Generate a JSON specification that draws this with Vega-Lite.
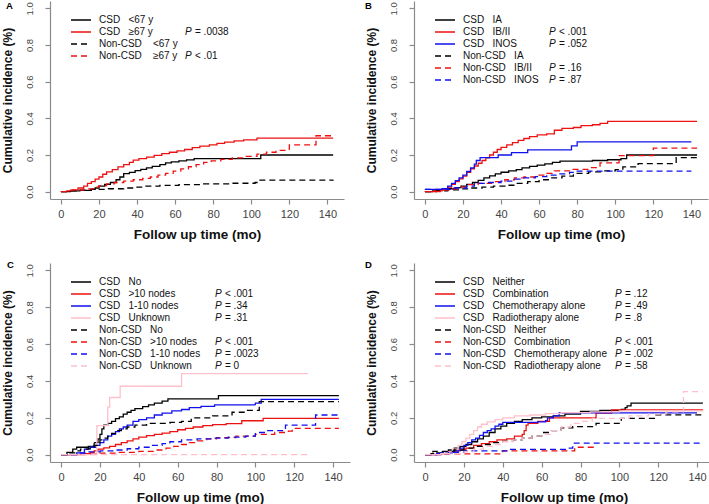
{
"$schema":"https://vega.github.io/schema/vega-lite/v6.json",
"autosize":{"type":"none"},
"padding":{"left":50,"top":1,"right":659,"bottom":503},
"columns":2,
"spacing":{"row":63,"column":64},
"bounds":"flush",
"align":"all",
"resolve":{"scale":{"color":"independent","strokeDash":"independent","shape":"independent","fill":"independent"},"legend":{"color":"independent","strokeDash":"independent","shape":"independent","fill":"independent"}},
"config":{
 "view":{"stroke":null},
 "font":"Liberation Sans",
 "axis":{"grid":false,"domainColor":"#8a8a8a","tickColor":"#8a8a8a","domainWidth":1.2,"tickWidth":1.2,"tickSize":5,"labelColor":"#444444","labelFont":"Liberation Sans","titleFont":"Liberation Sans","titleFontWeight":"bold","titleColor":"#111111"},
 "axisX":{"labelFontSize":11,"labelPadding":4,"titleFontSize":13.5,"titlePadding":8},
 "axisY":{"labelFontSize":9.5,"labelAngle":270,"labelPadding":11,"titleFontSize":12,"titlePadding":10},
 "legend":{"orient":"none","symbolType":"M-2,0H2","symbolSize":100,"symbolStrokeWidth":1.4,"labelFont":"Liberation Sans","labelFontSize":10,"labelColor":"#111111","labelOffset":12,"rowPadding":1,"padding":0,"labelLimit":0},
 "title":{"font":"Liberation Sans","fontSize":9.5,"fontWeight":"bold","anchor":"start","frame":"group","baseline":"alphabetic","offset":0,"color":"#000000"}
},
"datasets":{
"A":[
{"series":" CSD   <67 y","t":0,"ci":0},{"series":" CSD   <67 y","t":5,"ci":0.004},{"series":" CSD   <67 y","t":10,"ci":0.007},{"series":" CSD   <67 y","t":16,"ci":0.012},{"series":" CSD   <67 y","t":18,"ci":0.02},{"series":" CSD   <67 y","t":20,"ci":0.03},{"series":" CSD   <67 y","t":23,"ci":0.04},{"series":" CSD   <67 y","t":26,"ci":0.05},{"series":" CSD   <67 y","t":29,"ci":0.065},{"series":" CSD   <67 y","t":31,"ci":0.08},{"series":" CSD   <67 y","t":33,"ci":0.098},{"series":" CSD   <67 y","t":36,"ci":0.105},{"series":" CSD   <67 y","t":39,"ci":0.115},{"series":" CSD   <67 y","t":42,"ci":0.122},{"series":" CSD   <67 y","t":45,"ci":0.13},{"series":" CSD   <67 y","t":48,"ci":0.138},{"series":" CSD   <67 y","t":52,"ci":0.148},{"series":" CSD   <67 y","t":55,"ci":0.157},{"series":" CSD   <67 y","t":58,"ci":0.163},{"series":" CSD   <67 y","t":62,"ci":0.168},{"series":" CSD   <67 y","t":66,"ci":0.173},{"series":" CSD   <67 y","t":70,"ci":0.18},{"series":" CSD   <67 y","t":105,"ci":0.2},{"series":" CSD   <67 y","t":143,"ci":0.2},
{"series":" CSD   ≥67 y","t":0,"ci":0},{"series":" CSD   ≥67 y","t":3,"ci":0.004},{"series":" CSD   ≥67 y","t":6,"ci":0.01},{"series":" CSD   ≥67 y","t":9,"ci":0.02},{"series":" CSD   ≥67 y","t":12,"ci":0.03},{"series":" CSD   ≥67 y","t":14,"ci":0.045},{"series":" CSD   ≥67 y","t":16,"ci":0.055},{"series":" CSD   ≥67 y","t":18,"ci":0.068},{"series":" CSD   ≥67 y","t":20,"ci":0.08},{"series":" CSD   ≥67 y","t":22,"ci":0.095},{"series":" CSD   ≥67 y","t":24,"ci":0.108},{"series":" CSD   ≥67 y","t":27,"ci":0.12},{"series":" CSD   ≥67 y","t":30,"ci":0.135},{"series":" CSD   ≥67 y","t":33,"ci":0.148},{"series":" CSD   ≥67 y","t":36,"ci":0.16},{"series":" CSD   ≥67 y","t":38,"ci":0.172},{"series":" CSD   ≥67 y","t":41,"ci":0.18},{"series":" CSD   ≥67 y","t":45,"ci":0.188},{"series":" CSD   ≥67 y","t":49,"ci":0.198},{"series":" CSD   ≥67 y","t":53,"ci":0.207},{"series":" CSD   ≥67 y","t":57,"ci":0.215},{"series":" CSD   ≥67 y","t":61,"ci":0.222},{"series":" CSD   ≥67 y","t":65,"ci":0.23},{"series":" CSD   ≥67 y","t":69,"ci":0.24},{"series":" CSD   ≥67 y","t":73,"ci":0.248},{"series":" CSD   ≥67 y","t":78,"ci":0.255},{"series":" CSD   ≥67 y","t":82,"ci":0.263},{"series":" CSD   ≥67 y","t":86,"ci":0.27},{"series":" CSD   ≥67 y","t":91,"ci":0.277},{"series":" CSD   ≥67 y","t":96,"ci":0.283},{"series":" CSD   ≥67 y","t":103,"ci":0.292},{"series":" CSD   ≥67 y","t":143,"ci":0.292},
{"series":"Non-CSD    <67 y","t":0,"ci":0},{"series":"Non-CSD    <67 y","t":4,"ci":0.004},{"series":"Non-CSD    <67 y","t":8,"ci":0.008},{"series":"Non-CSD    <67 y","t":16,"ci":0.012},{"series":"Non-CSD    <67 y","t":25,"ci":0.016},{"series":"Non-CSD    <67 y","t":33,"ci":0.02},{"series":"Non-CSD    <67 y","t":38,"ci":0.025},{"series":"Non-CSD    <67 y","t":44,"ci":0.03},{"series":"Non-CSD    <67 y","t":52,"ci":0.034},{"series":"Non-CSD    <67 y","t":62,"ci":0.038},{"series":"Non-CSD    <67 y","t":75,"ci":0.042},{"series":"Non-CSD    <67 y","t":90,"ci":0.046},{"series":"Non-CSD    <67 y","t":102,"ci":0.05},{"series":"Non-CSD    <67 y","t":103,"ci":0.063},{"series":"Non-CSD    <67 y","t":143,"ci":0.065},
{"series":"Non-CSD    ≥67 y","t":0,"ci":0},{"series":"Non-CSD    ≥67 y","t":5,"ci":0.008},{"series":"Non-CSD    ≥67 y","t":12,"ci":0.015},{"series":"Non-CSD    ≥67 y","t":17,"ci":0.025},{"series":"Non-CSD    ≥67 y","t":20,"ci":0.033},{"series":"Non-CSD    ≥67 y","t":24,"ci":0.042},{"series":"Non-CSD    ≥67 y","t":28,"ci":0.05},{"series":"Non-CSD    ≥67 y","t":33,"ci":0.058},{"series":"Non-CSD    ≥67 y","t":38,"ci":0.065},{"series":"Non-CSD    ≥67 y","t":43,"ci":0.072},{"series":"Non-CSD    ≥67 y","t":47,"ci":0.08},{"series":"Non-CSD    ≥67 y","t":51,"ci":0.09},{"series":"Non-CSD    ≥67 y","t":55,"ci":0.1},{"series":"Non-CSD    ≥67 y","t":59,"ci":0.112},{"series":"Non-CSD    ≥67 y","t":63,"ci":0.124},{"series":"Non-CSD    ≥67 y","t":67,"ci":0.136},{"series":"Non-CSD    ≥67 y","t":71,"ci":0.148},{"series":"Non-CSD    ≥67 y","t":75,"ci":0.16},{"series":"Non-CSD    ≥67 y","t":79,"ci":0.168},{"series":"Non-CSD    ≥67 y","t":84,"ci":0.176},{"series":"Non-CSD    ≥67 y","t":90,"ci":0.184},{"series":"Non-CSD    ≥67 y","t":96,"ci":0.192},{"series":"Non-CSD    ≥67 y","t":103,"ci":0.205},{"series":"Non-CSD    ≥67 y","t":108,"ci":0.215},{"series":"Non-CSD    ≥67 y","t":113,"ci":0.225},{"series":"Non-CSD    ≥67 y","t":120,"ci":0.255},{"series":"Non-CSD    ≥67 y","t":134,"ci":0.305},{"series":"Non-CSD    ≥67 y","t":143,"ci":0.305}
],
"B":[
{"series":" CSD   IA","t":0,"ci":0},{"series":" CSD   IA","t":4,"ci":0.004},{"series":" CSD   IA","t":8,"ci":0.01},{"series":" CSD   IA","t":12,"ci":0.016},{"series":" CSD   IA","t":16,"ci":0.022},{"series":" CSD   IA","t":19,"ci":0.03},{"series":" CSD   IA","t":22,"ci":0.04},{"series":" CSD   IA","t":25,"ci":0.05},{"series":" CSD   IA","t":28,"ci":0.062},{"series":" CSD   IA","t":31,"ci":0.075},{"series":" CSD   IA","t":34,"ci":0.086},{"series":" CSD   IA","t":37,"ci":0.097},{"series":" CSD   IA","t":40,"ci":0.106},{"series":" CSD   IA","t":44,"ci":0.113},{"series":" CSD   IA","t":48,"ci":0.12},{"series":" CSD   IA","t":51,"ci":0.13},{"series":" CSD   IA","t":55,"ci":0.138},{"series":" CSD   IA","t":59,"ci":0.145},{"series":" CSD   IA","t":63,"ci":0.152},{"series":" CSD   IA","t":67,"ci":0.16},{"series":" CSD   IA","t":71,"ci":0.167},{"series":" CSD   IA","t":88,"ci":0.17},{"series":" CSD   IA","t":96,"ci":0.174},{"series":" CSD   IA","t":103,"ci":0.18},{"series":" CSD   IA","t":106,"ci":0.2},{"series":" CSD   IA","t":143,"ci":0.2},
{"series":" CSD   IB/II","t":0,"ci":0},{"series":" CSD   IB/II","t":5,"ci":0.005},{"series":" CSD   IB/II","t":9,"ci":0.012},{"series":" CSD   IB/II","t":12,"ci":0.025},{"series":" CSD   IB/II","t":14,"ci":0.04},{"series":" CSD   IB/II","t":16,"ci":0.055},{"series":" CSD   IB/II","t":18,"ci":0.07},{"series":" CSD   IB/II","t":20,"ci":0.085},{"series":" CSD   IB/II","t":22,"ci":0.105},{"series":" CSD   IB/II","t":24,"ci":0.125},{"series":" CSD   IB/II","t":26,"ci":0.14},{"series":" CSD   IB/II","t":28,"ci":0.155},{"series":" CSD   IB/II","t":30,"ci":0.17},{"series":" CSD   IB/II","t":32,"ci":0.185},{"series":" CSD   IB/II","t":34,"ci":0.2},{"series":" CSD   IB/II","t":36,"ci":0.215},{"series":" CSD   IB/II","t":38,"ci":0.23},{"series":" CSD   IB/II","t":40,"ci":0.242},{"series":" CSD   IB/II","t":43,"ci":0.255},{"series":" CSD   IB/II","t":46,"ci":0.268},{"series":" CSD   IB/II","t":49,"ci":0.28},{"series":" CSD   IB/II","t":52,"ci":0.29},{"series":" CSD   IB/II","t":55,"ci":0.3},{"series":" CSD   IB/II","t":59,"ci":0.31},{"series":" CSD   IB/II","t":64,"ci":0.315},{"series":" CSD   IB/II","t":68,"ci":0.335},{"series":" CSD   IB/II","t":72,"ci":0.345},{"series":" CSD   IB/II","t":78,"ci":0.35},{"series":" CSD   IB/II","t":82,"ci":0.36},{"series":" CSD   IB/II","t":88,"ci":0.365},{"series":" CSD   IB/II","t":92,"ci":0.372},{"series":" CSD   IB/II","t":96,"ci":0.383},{"series":" CSD   IB/II","t":143,"ci":0.383},
{"series":" CSD   INOS","t":0,"ci":0.012},{"series":" CSD   INOS","t":9,"ci":0.016},{"series":" CSD   INOS","t":12,"ci":0.03},{"series":" CSD   INOS","t":14,"ci":0.045},{"series":" CSD   INOS","t":16,"ci":0.06},{"series":" CSD   INOS","t":18,"ci":0.075},{"series":" CSD   INOS","t":20,"ci":0.09},{"series":" CSD   INOS","t":22,"ci":0.11},{"series":" CSD   INOS","t":24,"ci":0.13},{"series":" CSD   INOS","t":26,"ci":0.15},{"series":" CSD   INOS","t":27,"ci":0.17},{"series":" CSD   INOS","t":29,"ci":0.186},{"series":" CSD   INOS","t":38.5,"ci":0.2},{"series":" CSD   INOS","t":45.5,"ci":0.213},{"series":" CSD   INOS","t":54,"ci":0.228},{"series":" CSD   INOS","t":77,"ci":0.25},{"series":" CSD   INOS","t":80,"ci":0.272},{"series":" CSD   INOS","t":140,"ci":0.272},
{"series":"Non-CSD   IA","t":0,"ci":0},{"series":"Non-CSD   IA","t":6,"ci":0.004},{"series":"Non-CSD   IA","t":12,"ci":0.01},{"series":"Non-CSD   IA","t":18,"ci":0.015},{"series":"Non-CSD   IA","t":24,"ci":0.02},{"series":"Non-CSD   IA","t":30,"ci":0.025},{"series":"Non-CSD   IA","t":36,"ci":0.03},{"series":"Non-CSD   IA","t":42,"ci":0.035},{"series":"Non-CSD   IA","t":48,"ci":0.045},{"series":"Non-CSD   IA","t":54,"ci":0.055},{"series":"Non-CSD   IA","t":60,"ci":0.065},{"series":"Non-CSD   IA","t":66,"ci":0.075},{"series":"Non-CSD   IA","t":72,"ci":0.085},{"series":"Non-CSD   IA","t":78,"ci":0.1},{"series":"Non-CSD   IA","t":86,"ci":0.108},{"series":"Non-CSD   IA","t":94,"ci":0.113},{"series":"Non-CSD   IA","t":100,"ci":0.12},{"series":"Non-CSD   IA","t":104,"ci":0.135},{"series":"Non-CSD   IA","t":112,"ci":0.153},{"series":"Non-CSD   IA","t":132,"ci":0.186},{"series":"Non-CSD   IA","t":143,"ci":0.19},
{"series":"Non-CSD   IB/II","t":0,"ci":0},{"series":"Non-CSD   IB/II","t":8,"ci":0.008},{"series":"Non-CSD   IB/II","t":14,"ci":0.015},{"series":"Non-CSD   IB/II","t":19,"ci":0.025},{"series":"Non-CSD   IB/II","t":22,"ci":0.038},{"series":"Non-CSD   IB/II","t":28,"ci":0.045},{"series":"Non-CSD   IB/II","t":35,"ci":0.055},{"series":"Non-CSD   IB/II","t":42,"ci":0.065},{"series":"Non-CSD   IB/II","t":47,"ci":0.075},{"series":"Non-CSD   IB/II","t":52,"ci":0.08},{"series":"Non-CSD   IB/II","t":58,"ci":0.09},{"series":"Non-CSD   IB/II","t":64,"ci":0.1},{"series":"Non-CSD   IB/II","t":68,"ci":0.113},{"series":"Non-CSD   IB/II","t":77,"ci":0.122},{"series":"Non-CSD   IB/II","t":86,"ci":0.131},{"series":"Non-CSD   IB/II","t":92,"ci":0.157},{"series":"Non-CSD   IB/II","t":102,"ci":0.197},{"series":"Non-CSD   IB/II","t":120,"ci":0.237},{"series":"Non-CSD   IB/II","t":143,"ci":0.237},
{"series":"Non-CSD   INOS","t":0,"ci":0.012},{"series":"Non-CSD   INOS","t":8,"ci":0.012},{"series":"Non-CSD   INOS","t":14,"ci":0.02},{"series":"Non-CSD   INOS","t":22,"ci":0.03},{"series":"Non-CSD   INOS","t":26,"ci":0.045},{"series":"Non-CSD   INOS","t":32,"ci":0.05},{"series":"Non-CSD   INOS","t":40,"ci":0.058},{"series":"Non-CSD   INOS","t":46,"ci":0.068},{"series":"Non-CSD   INOS","t":52,"ci":0.075},{"series":"Non-CSD   INOS","t":58,"ci":0.082},{"series":"Non-CSD   INOS","t":64,"ci":0.09},{"series":"Non-CSD   INOS","t":70,"ci":0.097},{"series":"Non-CSD   INOS","t":76,"ci":0.105},{"series":"Non-CSD   INOS","t":80,"ci":0.112},{"series":"Non-CSD   INOS","t":140,"ci":0.112}
],
"C":[
{"series":" CSD   No","t":0,"ci":0},{"series":" CSD   No","t":3,"ci":0.012},{"series":" CSD   No","t":6,"ci":0.03},{"series":" CSD   No","t":8,"ci":0.04},{"series":" CSD   No","t":14,"ci":0.045},{"series":" CSD   No","t":17,"ci":0.065},{"series":" CSD   No","t":19,"ci":0.085},{"series":" CSD   No","t":20,"ci":0.11},{"series":" CSD   No","t":21,"ci":0.14},{"series":" CSD   No","t":22,"ci":0.16},{"series":" CSD   No","t":24,"ci":0.17},{"series":" CSD   No","t":26,"ci":0.18},{"series":" CSD   No","t":28,"ci":0.195},{"series":" CSD   No","t":30,"ci":0.205},{"series":" CSD   No","t":32,"ci":0.22},{"series":" CSD   No","t":34,"ci":0.23},{"series":" CSD   No","t":36,"ci":0.24},{"series":" CSD   No","t":38,"ci":0.25},{"series":" CSD   No","t":42,"ci":0.26},{"series":" CSD   No","t":45,"ci":0.27},{"series":" CSD   No","t":48,"ci":0.28},{"series":" CSD   No","t":52,"ci":0.29},{"series":" CSD   No","t":55,"ci":0.303},{"series":" CSD   No","t":81,"ci":0.32},{"series":" CSD   No","t":143,"ci":0.32},
{"series":" CSD   >10 nodes","t":0,"ci":0},{"series":" CSD   >10 nodes","t":12,"ci":0.005},{"series":" CSD   >10 nodes","t":15,"ci":0.012},{"series":" CSD   >10 nodes","t":17,"ci":0.02},{"series":" CSD   >10 nodes","t":19,"ci":0.03},{"series":" CSD   >10 nodes","t":22,"ci":0.037},{"series":" CSD   >10 nodes","t":25,"ci":0.045},{"series":" CSD   >10 nodes","t":28,"ci":0.055},{"series":" CSD   >10 nodes","t":31,"ci":0.065},{"series":" CSD   >10 nodes","t":34,"ci":0.075},{"series":" CSD   >10 nodes","t":37,"ci":0.085},{"series":" CSD   >10 nodes","t":40,"ci":0.095},{"series":" CSD   >10 nodes","t":44,"ci":0.103},{"series":" CSD   >10 nodes","t":48,"ci":0.11},{"series":" CSD   >10 nodes","t":52,"ci":0.117},{"series":" CSD   >10 nodes","t":56,"ci":0.125},{"series":" CSD   >10 nodes","t":60,"ci":0.135},{"series":" CSD   >10 nodes","t":64,"ci":0.142},{"series":" CSD   >10 nodes","t":68,"ci":0.15},{"series":" CSD   >10 nodes","t":73,"ci":0.157},{"series":" CSD   >10 nodes","t":78,"ci":0.163},{"series":" CSD   >10 nodes","t":85,"ci":0.168},{"series":" CSD   >10 nodes","t":93,"ci":0.184},{"series":" CSD   >10 nodes","t":104,"ci":0.197},{"series":" CSD   >10 nodes","t":143,"ci":0.197},
{"series":" CSD   1-10 nodes","t":0,"ci":0},{"series":" CSD   1-10 nodes","t":8,"ci":0.01},{"series":" CSD   1-10 nodes","t":12,"ci":0.03},{"series":" CSD   1-10 nodes","t":15,"ci":0.04},{"series":" CSD   1-10 nodes","t":18,"ci":0.05},{"series":" CSD   1-10 nodes","t":20,"ci":0.065},{"series":" CSD   1-10 nodes","t":22,"ci":0.08},{"series":" CSD   1-10 nodes","t":24,"ci":0.1},{"series":" CSD   1-10 nodes","t":26,"ci":0.11},{"series":" CSD   1-10 nodes","t":28,"ci":0.125},{"series":" CSD   1-10 nodes","t":30,"ci":0.14},{"series":" CSD   1-10 nodes","t":32,"ci":0.15},{"series":" CSD   1-10 nodes","t":34,"ci":0.16},{"series":" CSD   1-10 nodes","t":37,"ci":0.18},{"series":" CSD   1-10 nodes","t":40,"ci":0.19},{"series":" CSD   1-10 nodes","t":44,"ci":0.2},{"series":" CSD   1-10 nodes","t":48,"ci":0.215},{"series":" CSD   1-10 nodes","t":52,"ci":0.225},{"series":" CSD   1-10 nodes","t":57,"ci":0.237},{"series":" CSD   1-10 nodes","t":62,"ci":0.245},{"series":" CSD   1-10 nodes","t":66,"ci":0.255},{"series":" CSD   1-10 nodes","t":72,"ci":0.262},{"series":" CSD   1-10 nodes","t":79,"ci":0.27},{"series":" CSD   1-10 nodes","t":100,"ci":0.28},{"series":" CSD   1-10 nodes","t":103,"ci":0.3},{"series":" CSD   1-10 nodes","t":143,"ci":0.3},
{"series":" CSD   Unknown","t":0,"ci":0},{"series":" CSD   Unknown","t":18.4,"ci":0.157},{"series":" CSD   Unknown","t":24,"ci":0.258},{"series":" CSD   Unknown","t":25,"ci":0.31},{"series":" CSD   Unknown","t":30.4,"ci":0.371},{"series":" CSD   Unknown","t":62,"ci":0.44},{"series":" CSD   Unknown","t":127,"ci":0.44},
{"series":"Non-CSD   No","t":0,"ci":0},{"series":"Non-CSD   No","t":3,"ci":0.01},{"series":"Non-CSD   No","t":7,"ci":0.02},{"series":"Non-CSD   No","t":10,"ci":0.03},{"series":"Non-CSD   No","t":14,"ci":0.035},{"series":"Non-CSD   No","t":17,"ci":0.05},{"series":"Non-CSD   No","t":19,"ci":0.065},{"series":"Non-CSD   No","t":20,"ci":0.08},{"series":"Non-CSD   No","t":22,"ci":0.09},{"series":"Non-CSD   No","t":24,"ci":0.1},{"series":"Non-CSD   No","t":26,"ci":0.115},{"series":"Non-CSD   No","t":28,"ci":0.13},{"series":"Non-CSD   No","t":31,"ci":0.14},{"series":"Non-CSD   No","t":34,"ci":0.15},{"series":"Non-CSD   No","t":38,"ci":0.16},{"series":"Non-CSD   No","t":44,"ci":0.17},{"series":"Non-CSD   No","t":56,"ci":0.175},{"series":"Non-CSD   No","t":62,"ci":0.18},{"series":"Non-CSD   No","t":67,"ci":0.2},{"series":"Non-CSD   No","t":78,"ci":0.21},{"series":"Non-CSD   No","t":88,"ci":0.23},{"series":"Non-CSD   No","t":95,"ci":0.24},{"series":"Non-CSD   No","t":102,"ci":0.288},{"series":"Non-CSD   No","t":143,"ci":0.288},
{"series":"Non-CSD   >10 nodes","t":0,"ci":0},{"series":"Non-CSD   >10 nodes","t":10,"ci":0.003},{"series":"Non-CSD   >10 nodes","t":20,"ci":0.008},{"series":"Non-CSD   >10 nodes","t":30,"ci":0.012},{"series":"Non-CSD   >10 nodes","t":40,"ci":0.018},{"series":"Non-CSD   >10 nodes","t":48,"ci":0.025},{"series":"Non-CSD   >10 nodes","t":54,"ci":0.035},{"series":"Non-CSD   >10 nodes","t":58,"ci":0.045},{"series":"Non-CSD   >10 nodes","t":62,"ci":0.055},{"series":"Non-CSD   >10 nodes","t":66,"ci":0.065},{"series":"Non-CSD   >10 nodes","t":70,"ci":0.075},{"series":"Non-CSD   >10 nodes","t":75,"ci":0.085},{"series":"Non-CSD   >10 nodes","t":80,"ci":0.092},{"series":"Non-CSD   >10 nodes","t":90,"ci":0.1},{"series":"Non-CSD   >10 nodes","t":100,"ci":0.11},{"series":"Non-CSD   >10 nodes","t":110,"ci":0.12},{"series":"Non-CSD   >10 nodes","t":117,"ci":0.128},{"series":"Non-CSD   >10 nodes","t":119,"ci":0.143},{"series":"Non-CSD   >10 nodes","t":143,"ci":0.143},
{"series":"Non-CSD   1-10 nodes","t":0,"ci":0},{"series":"Non-CSD   1-10 nodes","t":8,"ci":0.008},{"series":"Non-CSD   1-10 nodes","t":14,"ci":0.015},{"series":"Non-CSD   1-10 nodes","t":20,"ci":0.02},{"series":"Non-CSD   1-10 nodes","t":28,"ci":0.025},{"series":"Non-CSD   1-10 nodes","t":34,"ci":0.032},{"series":"Non-CSD   1-10 nodes","t":40,"ci":0.04},{"series":"Non-CSD   1-10 nodes","t":46,"ci":0.05},{"series":"Non-CSD   1-10 nodes","t":52,"ci":0.06},{"series":"Non-CSD   1-10 nodes","t":56,"ci":0.07},{"series":"Non-CSD   1-10 nodes","t":62,"ci":0.08},{"series":"Non-CSD   1-10 nodes","t":70,"ci":0.085},{"series":"Non-CSD   1-10 nodes","t":78,"ci":0.09},{"series":"Non-CSD   1-10 nodes","t":86,"ci":0.095},{"series":"Non-CSD   1-10 nodes","t":95,"ci":0.1},{"series":"Non-CSD   1-10 nodes","t":100,"ci":0.12},{"series":"Non-CSD   1-10 nodes","t":106,"ci":0.13},{"series":"Non-CSD   1-10 nodes","t":115.5,"ci":0.16},{"series":"Non-CSD   1-10 nodes","t":131,"ci":0.215},{"series":"Non-CSD   1-10 nodes","t":143,"ci":0.215},
{"series":"Non-CSD   Unknown","t":0,"ci":0},{"series":"Non-CSD   Unknown","t":127,"ci":0}
],
"D":[
{"series":" CSD   Neither","t":0,"ci":0},{"series":" CSD   Neither","t":3,"ci":0.005},{"series":" CSD   Neither","t":6,"ci":0.01},{"series":" CSD   Neither","t":9,"ci":0.015},{"series":" CSD   Neither","t":12,"ci":0.025},{"series":" CSD   Neither","t":15,"ci":0.035},{"series":" CSD   Neither","t":18,"ci":0.045},{"series":" CSD   Neither","t":21,"ci":0.055},{"series":" CSD   Neither","t":24,"ci":0.07},{"series":" CSD   Neither","t":27,"ci":0.085},{"series":" CSD   Neither","t":30,"ci":0.1},{"series":" CSD   Neither","t":33,"ci":0.12},{"series":" CSD   Neither","t":36,"ci":0.14},{"series":" CSD   Neither","t":39,"ci":0.155},{"series":" CSD   Neither","t":42,"ci":0.17},{"series":" CSD   Neither","t":46,"ci":0.18},{"series":" CSD   Neither","t":50,"ci":0.19},{"series":" CSD   Neither","t":55,"ci":0.2},{"series":" CSD   Neither","t":60,"ci":0.205},{"series":" CSD   Neither","t":66,"ci":0.21},{"series":" CSD   Neither","t":72,"ci":0.22},{"series":" CSD   Neither","t":80,"ci":0.235},{"series":" CSD   Neither","t":90,"ci":0.24},{"series":" CSD   Neither","t":101,"ci":0.245},{"series":" CSD   Neither","t":103,"ci":0.255},{"series":" CSD   Neither","t":104,"ci":0.265},{"series":" CSD   Neither","t":106,"ci":0.28},{"series":" CSD   Neither","t":143,"ci":0.28},
{"series":" CSD   Combination","t":0,"ci":0},{"series":" CSD   Combination","t":6,"ci":0.005},{"series":" CSD   Combination","t":12,"ci":0.015},{"series":" CSD   Combination","t":17,"ci":0.025},{"series":" CSD   Combination","t":21,"ci":0.035},{"series":" CSD   Combination","t":25,"ci":0.05},{"series":" CSD   Combination","t":29,"ci":0.06},{"series":" CSD   Combination","t":33,"ci":0.07},{"series":" CSD   Combination","t":37,"ci":0.08},{"series":" CSD   Combination","t":42,"ci":0.085},{"series":" CSD   Combination","t":46,"ci":0.1},{"series":" CSD   Combination","t":50,"ci":0.11},{"series":" CSD   Combination","t":51,"ci":0.13},{"series":" CSD   Combination","t":52,"ci":0.16},{"series":" CSD   Combination","t":53,"ci":0.17},{"series":" CSD   Combination","t":58,"ci":0.18},{"series":" CSD   Combination","t":64,"ci":0.2},{"series":" CSD   Combination","t":88,"ci":0.225},{"series":" CSD   Combination","t":96,"ci":0.243},{"series":" CSD   Combination","t":143,"ci":0.243},
{"series":" CSD   Chemotherapy alone","t":0,"ci":0},{"series":" CSD   Chemotherapy alone","t":8,"ci":0.01},{"series":" CSD   Chemotherapy alone","t":14,"ci":0.02},{"series":" CSD   Chemotherapy alone","t":18,"ci":0.035},{"series":" CSD   Chemotherapy alone","t":20,"ci":0.05},{"series":" CSD   Chemotherapy alone","t":22,"ci":0.065},{"series":" CSD   Chemotherapy alone","t":24,"ci":0.08},{"series":" CSD   Chemotherapy alone","t":26,"ci":0.09},{"series":" CSD   Chemotherapy alone","t":28,"ci":0.105},{"series":" CSD   Chemotherapy alone","t":30,"ci":0.12},{"series":" CSD   Chemotherapy alone","t":32,"ci":0.13},{"series":" CSD   Chemotherapy alone","t":34,"ci":0.14},{"series":" CSD   Chemotherapy alone","t":36,"ci":0.155},{"series":" CSD   Chemotherapy alone","t":38,"ci":0.165},{"series":" CSD   Chemotherapy alone","t":40,"ci":0.175},{"series":" CSD   Chemotherapy alone","t":58,"ci":0.178},{"series":" CSD   Chemotherapy alone","t":62,"ci":0.185},{"series":" CSD   Chemotherapy alone","t":63,"ci":0.2},{"series":" CSD   Chemotherapy alone","t":66,"ci":0.21},{"series":" CSD   Chemotherapy alone","t":69,"ci":0.227},{"series":" CSD   Chemotherapy alone","t":140,"ci":0.227},
{"series":" CSD   Radiotherapy alone","t":0,"ci":0},{"series":" CSD   Radiotherapy alone","t":5,"ci":0.005},{"series":" CSD   Radiotherapy alone","t":10,"ci":0.015},{"series":" CSD   Radiotherapy alone","t":14,"ci":0.03},{"series":" CSD   Radiotherapy alone","t":17,"ci":0.05},{"series":" CSD   Radiotherapy alone","t":19,"ci":0.07},{"series":" CSD   Radiotherapy alone","t":21,"ci":0.09},{"series":" CSD   Radiotherapy alone","t":23,"ci":0.11},{"series":" CSD   Radiotherapy alone","t":25,"ci":0.13},{"series":" CSD   Radiotherapy alone","t":27,"ci":0.15},{"series":" CSD   Radiotherapy alone","t":29,"ci":0.165},{"series":" CSD   Radiotherapy alone","t":32,"ci":0.178},{"series":" CSD   Radiotherapy alone","t":36,"ci":0.19},{"series":" CSD   Radiotherapy alone","t":40,"ci":0.2},{"series":" CSD   Radiotherapy alone","t":46,"ci":0.21},{"series":" CSD   Radiotherapy alone","t":54,"ci":0.215},{"series":" CSD   Radiotherapy alone","t":62,"ci":0.222},{"series":" CSD   Radiotherapy alone","t":70,"ci":0.228},{"series":" CSD   Radiotherapy alone","t":85,"ci":0.232},{"series":" CSD   Radiotherapy alone","t":100,"ci":0.238},{"series":" CSD   Radiotherapy alone","t":143,"ci":0.24},
{"series":"Non-CSD   Neither","t":0,"ci":0},{"series":"Non-CSD   Neither","t":4,"ci":0.018},{"series":"Non-CSD   Neither","t":15,"ci":0.025},{"series":"Non-CSD   Neither","t":20,"ci":0.035},{"series":"Non-CSD   Neither","t":25,"ci":0.045},{"series":"Non-CSD   Neither","t":30,"ci":0.055},{"series":"Non-CSD   Neither","t":35,"ci":0.065},{"series":"Non-CSD   Neither","t":40,"ci":0.072},{"series":"Non-CSD   Neither","t":45,"ci":0.08},{"series":"Non-CSD   Neither","t":50,"ci":0.09},{"series":"Non-CSD   Neither","t":55,"ci":0.1},{"series":"Non-CSD   Neither","t":60,"ci":0.12},{"series":"Non-CSD   Neither","t":65,"ci":0.13},{"series":"Non-CSD   Neither","t":70,"ci":0.145},{"series":"Non-CSD   Neither","t":76,"ci":0.152},{"series":"Non-CSD   Neither","t":88,"ci":0.17},{"series":"Non-CSD   Neither","t":101,"ci":0.197},{"series":"Non-CSD   Neither","t":118,"ci":0.216},{"series":"Non-CSD   Neither","t":143,"ci":0.216},
{"series":"Non-CSD   Combination","t":0,"ci":0},{"series":"Non-CSD   Combination","t":8,"ci":0.004},{"series":"Non-CSD   Combination","t":40,"ci":0.02},{"series":"Non-CSD   Combination","t":77,"ci":0.04},{"series":"Non-CSD   Combination","t":88,"ci":0.04},
{"series":"Non-CSD   Chemotherapy alone","t":0,"ci":0},{"series":"Non-CSD   Chemotherapy alone","t":6,"ci":0.005},{"series":"Non-CSD   Chemotherapy alone","t":12,"ci":0.012},{"series":"Non-CSD   Chemotherapy alone","t":20,"ci":0.02},{"series":"Non-CSD   Chemotherapy alone","t":44,"ci":0.028},{"series":"Non-CSD   Chemotherapy alone","t":73,"ci":0.035},{"series":"Non-CSD   Chemotherapy alone","t":76,"ci":0.062},{"series":"Non-CSD   Chemotherapy alone","t":143,"ci":0.062},
{"series":"Non-CSD   Radiotherapy alone","t":0,"ci":0},{"series":"Non-CSD   Radiotherapy alone","t":10,"ci":0.005},{"series":"Non-CSD   Radiotherapy alone","t":20,"ci":0.015},{"series":"Non-CSD   Radiotherapy alone","t":25,"ci":0.03},{"series":"Non-CSD   Radiotherapy alone","t":30,"ci":0.045},{"series":"Non-CSD   Radiotherapy alone","t":35,"ci":0.055},{"series":"Non-CSD   Radiotherapy alone","t":40,"ci":0.07},{"series":"Non-CSD   Radiotherapy alone","t":45,"ci":0.08},{"series":"Non-CSD   Radiotherapy alone","t":50,"ci":0.09},{"series":"Non-CSD   Radiotherapy alone","t":55,"ci":0.1},{"series":"Non-CSD   Radiotherapy alone","t":60,"ci":0.11},{"series":"Non-CSD   Radiotherapy alone","t":65,"ci":0.13},{"series":"Non-CSD   Radiotherapy alone","t":70,"ci":0.15},{"series":"Non-CSD   Radiotherapy alone","t":75,"ci":0.17},{"series":"Non-CSD   Radiotherapy alone","t":80,"ci":0.18},{"series":"Non-CSD   Radiotherapy alone","t":86,"ci":0.197},{"series":"Non-CSD   Radiotherapy alone","t":105,"ci":0.21},{"series":"Non-CSD   Radiotherapy alone","t":115,"ci":0.22},{"series":"Non-CSD   Radiotherapy alone","t":124,"ci":0.232},{"series":"Non-CSD   Radiotherapy alone","t":133,"ci":0.342},{"series":"Non-CSD   Radiotherapy alone","t":143,"ci":0.342}
]
},
"concat":[
{"width":294,"height":198,"title":{"text":"A","dx":-44,"dy":13},
 "layer":[
  {"data":{"name":"A"},"mark":{"type":"line","interpolate":"step-after","strokeWidth":1.3},
   "encoding":{
    "x":{"field":"t","type":"quantitative","scale":{"domain":[-5.72,148.72],"nice":false,"zero":false},"axis":{"values":[0,20,40,60,80,100,120,140],"title":"Follow up time (mo)"}},
    "y":{"field":"ci","type":"quantitative","scale":{"domain":[-0.04,1.04],"nice":false,"zero":false},"axis":{"values":[0,0.2,0.4,0.6,0.8,1],"format":".1f","title":"Cumulative incidence (%)"}},
    "color":{"field":"series","type":"nominal","scale":{"domain":[" CSD   <67 y"," CSD   ≥67 y","Non-CSD    <67 y","Non-CSD    ≥67 y"],"range":["#000000","#ee1111","#000000","#ee1111"]},"legend":{"title":null,"legendX":25,"legendY":13,"labelExpr":"replace(datum.label, regexp(' ', 'g'), '\u00a0')"}},
    "strokeDash":{"field":"series","type":"nominal","scale":{"domain":[" CSD   <67 y"," CSD   ≥67 y","Non-CSD    <67 y","Non-CSD    ≥67 y"],"range":[[1,0],[1,0],[6,4],[6,4]]},"legend":{"title":null,"legendX":25,"legendY":13,"labelExpr":"replace(datum.label, regexp(' ', 'g'), '\u00a0')"}}
   }},
  {"data":{"values":[{"p":"\u00a0","pv":"\u00a0"},{"p":"P","pv":"= .0038"},{"p":"\u00a0\u00a0","pv":"\u00a0\u00a0"},{"p":"P\u00a0","pv":"< .01"}]},"mark":{"type":"point","opacity":0},
   "encoding":{
    "shape":{"field":"p","type":"nominal","scale":{"domain":["\u00a0","P","\u00a0\u00a0","P\u00a0"],"range":["M-2,0H2","M-2,0H2","M-2,0H2","M-2,0H2"]},"legend":{"title":null,"legendX":111,"legendY":13,"symbolOpacity":0,"symbolStrokeColor":"transparent","labelFontStyle":"italic"}},
    "fill":{"field":"pv","type":"nominal","scale":{"domain":["\u00a0","= .0038","\u00a0\u00a0","< .01"],"range":["#fff","#fff","#fff","#fff"]},"legend":{"title":null,"legendX":121,"legendY":13,"symbolOpacity":0,"symbolStrokeColor":"transparent"}}}}
 ]},
{"width":294,"height":198,"title":{"text":"B","dx":-49,"dy":13},
 "layer":[
  {"data":{"name":"B"},"mark":{"type":"line","interpolate":"step-after","strokeWidth":1.3},
   "encoding":{
    "x":{"field":"t","type":"quantitative","scale":{"domain":[-5.72,148.72],"nice":false,"zero":false},"axis":{"values":[0,20,40,60,80,100,120,140],"title":"Follow up time (mo)"}},
    "y":{"field":"ci","type":"quantitative","scale":{"domain":[-0.04,1.04],"nice":false,"zero":false},"axis":{"values":[0,0.2,0.4,0.6,0.8,1],"format":".1f","title":"Cumulative incidence (%)"}},
    "color":{"field":"series","type":"nominal","scale":{"domain":[" CSD   IA"," CSD   IB/II"," CSD   INOS","Non-CSD   IA","Non-CSD   IB/II","Non-CSD   INOS"],"range":["#000000","#ee1111","#1111ee","#000000","#ee1111","#1111ee"]},"legend":{"title":null,"legendX":25,"legendY":13,"labelExpr":"replace(datum.label, regexp(' ', 'g'), '\u00a0')"}},
    "strokeDash":{"field":"series","type":"nominal","scale":{"domain":[" CSD   IA"," CSD   IB/II"," CSD   INOS","Non-CSD   IA","Non-CSD   IB/II","Non-CSD   INOS"],"range":[[1,0],[1,0],[1,0],[6,4],[6,4],[6,4]]},"legend":{"title":null,"legendX":25,"legendY":13,"labelExpr":"replace(datum.label, regexp(' ', 'g'), '\u00a0')"}}
   }},
  {"data":{"values":[{"p":"\u00a0","pv":"\u00a0"},{"p":"P","pv":"< .001"},{"p":"P\u00a0","pv":"= .052"},{"p":"\u00a0\u00a0","pv":"\u00a0\u00a0"},{"p":"P\u00a0\u00a0","pv":"= .16"},{"p":"P\u00a0\u00a0\u00a0","pv":"= .87"}]},"mark":{"type":"point","opacity":0},
   "encoding":{
    "shape":{"field":"p","type":"nominal","scale":{"domain":["\u00a0","P","P\u00a0","\u00a0\u00a0","P\u00a0\u00a0","P\u00a0\u00a0\u00a0"],"range":["M-2,0H2","M-2,0H2","M-2,0H2","M-2,0H2","M-2,0H2","M-2,0H2"]},"legend":{"title":null,"legendX":111,"legendY":13,"symbolOpacity":0,"symbolStrokeColor":"transparent","labelFontStyle":"italic"}},
    "fill":{"field":"pv","type":"nominal","scale":{"domain":["\u00a0","< .001","= .052","\u00a0\u00a0","= .16","= .87"],"range":["#fff","#fff","#fff","#fff","#fff","#fff"]},"legend":{"title":null,"legendX":121,"legendY":13,"symbolOpacity":0,"symbolStrokeColor":"transparent"}}}}
 ]},
{"width":300,"height":199,"title":{"text":"C","dx":-43,"dy":10},
 "layer":[
  {"data":{"name":"C"},"mark":{"type":"line","interpolate":"step-after","strokeWidth":1.3},
   "encoding":{
    "x":{"field":"t","type":"quantitative","scale":{"domain":[-5.72,148.72],"nice":false,"zero":false},"axis":{"values":[0,20,40,60,80,100,120,140],"title":"Follow up time (mo)"}},
    "y":{"field":"ci","type":"quantitative","scale":{"domain":[-0.04,1.04],"nice":false,"zero":false},"axis":{"values":[0,0.2,0.4,0.6,0.8,1],"format":".1f","title":"Cumulative incidence (%)"}},
    "color":{"field":"series","type":"nominal","scale":{"domain":[" CSD   No"," CSD   >10 nodes"," CSD   1-10 nodes"," CSD   Unknown","Non-CSD   No","Non-CSD   >10 nodes","Non-CSD   1-10 nodes","Non-CSD   Unknown"],"range":["#000000","#ee1111","#1111ee","#ffc0cb","#000000","#ee1111","#1111ee","#ffc0cb"]},"legend":{"title":null,"legendX":25,"legendY":13,"labelExpr":"replace(datum.label, regexp(' ', 'g'), '\u00a0')"}},
    "strokeDash":{"field":"series","type":"nominal","scale":{"domain":[" CSD   No"," CSD   >10 nodes"," CSD   1-10 nodes"," CSD   Unknown","Non-CSD   No","Non-CSD   >10 nodes","Non-CSD   1-10 nodes","Non-CSD   Unknown"],"range":[[1,0],[1,0],[1,0],[1,0],[6,4],[6,4],[6,4],[6,4]]},"legend":{"title":null,"legendX":25,"legendY":13,"labelExpr":"replace(datum.label, regexp(' ', 'g'), '\u00a0')"}}
   }},
  {"data":{"values":[{"p":"\u00a0","pv":"\u00a0"},{"p":"P","pv":"< .001"},{"p":"P\u00a0","pv":"= .34"},{"p":"P\u00a0\u00a0","pv":"= .31"},{"p":"\u00a0\u00a0","pv":"\u00a0\u00a0"},{"p":"P\u00a0\u00a0\u00a0","pv":"< .001\u00a0"},{"p":"P\u00a0\u00a0\u00a0\u00a0","pv":"= .0023"},{"p":"P\u00a0\u00a0\u00a0\u00a0\u00a0","pv":"= 0"}]},"mark":{"type":"point","opacity":0},
   "encoding":{
    "shape":{"field":"p","type":"nominal","scale":{"domain":["\u00a0","P","P\u00a0","P\u00a0\u00a0","\u00a0\u00a0","P\u00a0\u00a0\u00a0","P\u00a0\u00a0\u00a0\u00a0","P\u00a0\u00a0\u00a0\u00a0\u00a0"],"range":["M-2,0H2","M-2,0H2","M-2,0H2","M-2,0H2","M-2,0H2","M-2,0H2","M-2,0H2","M-2,0H2"]},"legend":{"title":null,"legendX":141,"legendY":13,"symbolOpacity":0,"symbolStrokeColor":"transparent","labelFontStyle":"italic"}},
    "fill":{"field":"pv","type":"nominal","scale":{"domain":["\u00a0","< .001","= .34","= .31","\u00a0\u00a0","< .001\u00a0","= .0023","= 0"],"range":["#fff","#fff","#fff","#fff","#fff","#fff","#fff","#fff"]},"legend":{"title":null,"legendX":151,"legendY":13,"symbolOpacity":0,"symbolStrokeColor":"transparent"}}}}
 ]},
{"width":300,"height":199,"title":{"text":"D","dx":-49,"dy":10},
 "layer":[
  {"data":{"name":"D"},"mark":{"type":"line","interpolate":"step-after","strokeWidth":1.3},
   "encoding":{
    "x":{"field":"t","type":"quantitative","scale":{"domain":[-5.72,148.72],"nice":false,"zero":false},"axis":{"values":[0,20,40,60,80,100,120,140],"title":"Follow up time (mo)"}},
    "y":{"field":"ci","type":"quantitative","scale":{"domain":[-0.04,1.04],"nice":false,"zero":false},"axis":{"values":[0,0.2,0.4,0.6,0.8,1],"format":".1f","title":"Cumulative incidence (%)"}},
    "color":{"field":"series","type":"nominal","scale":{"domain":[" CSD   Neither"," CSD   Combination"," CSD   Chemotherapy alone"," CSD   Radiotherapy alone","Non-CSD   Neither","Non-CSD   Combination","Non-CSD   Chemotherapy alone","Non-CSD   Radiotherapy alone"],"range":["#000000","#ee1111","#1111ee","#ffc0cb","#000000","#ee1111","#1111ee","#ffc0cb"]},"legend":{"title":null,"legendX":25,"legendY":13,"labelExpr":"replace(datum.label, regexp(' ', 'g'), '\u00a0')"}},
    "strokeDash":{"field":"series","type":"nominal","scale":{"domain":[" CSD   Neither"," CSD   Combination"," CSD   Chemotherapy alone"," CSD   Radiotherapy alone","Non-CSD   Neither","Non-CSD   Combination","Non-CSD   Chemotherapy alone","Non-CSD   Radiotherapy alone"],"range":[[1,0],[1,0],[1,0],[1,0],[6,4],[6,4],[6,4],[6,4]]},"legend":{"title":null,"legendX":25,"legendY":13,"labelExpr":"replace(datum.label, regexp(' ', 'g'), '\u00a0')"}}
   }},
  {"data":{"values":[{"p":"\u00a0","pv":"\u00a0"},{"p":"P","pv":"= .12"},{"p":"P\u00a0","pv":"= .49"},{"p":"P\u00a0\u00a0","pv":"= .8"},{"p":"\u00a0\u00a0","pv":"\u00a0\u00a0"},{"p":"P\u00a0\u00a0\u00a0","pv":"< .001"},{"p":"P\u00a0\u00a0\u00a0\u00a0","pv":"= .002"},{"p":"P\u00a0\u00a0\u00a0\u00a0\u00a0","pv":"= .58"}]},"mark":{"type":"point","opacity":0},
   "encoding":{
    "shape":{"field":"p","type":"nominal","scale":{"domain":["\u00a0","P","P\u00a0","P\u00a0\u00a0","\u00a0\u00a0","P\u00a0\u00a0\u00a0","P\u00a0\u00a0\u00a0\u00a0","P\u00a0\u00a0\u00a0\u00a0\u00a0"],"range":["M-2,0H2","M-2,0H2","M-2,0H2","M-2,0H2","M-2,0H2","M-2,0H2","M-2,0H2","M-2,0H2"]},"legend":{"title":null,"legendX":177,"legendY":13,"symbolOpacity":0,"symbolStrokeColor":"transparent","labelFontStyle":"italic"}},
    "fill":{"field":"pv","type":"nominal","scale":{"domain":["\u00a0","= .12","= .49","= .8","\u00a0\u00a0","< .001","= .002","= .58"],"range":["#fff","#fff","#fff","#fff","#fff","#fff","#fff","#fff"]},"legend":{"title":null,"legendX":187,"legendY":13,"symbolOpacity":0,"symbolStrokeColor":"transparent"}}}}
 ]}
]
}
